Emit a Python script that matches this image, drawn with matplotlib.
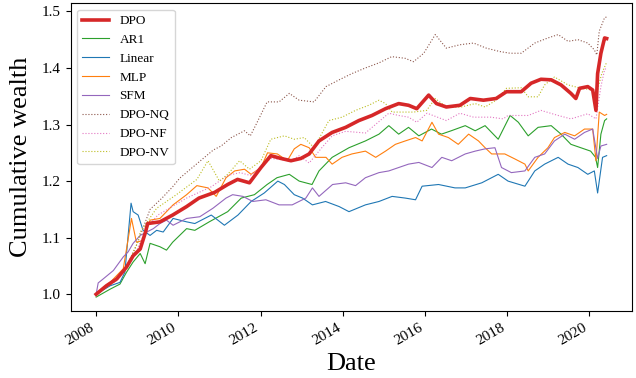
import pandas as pd
import matplotlib.pyplot as plt
import matplotlib.dates as mdates

plt.rcParams['font.family'] = ['Liberation Serif', 'DejaVu Serif']

# values (decimal year, cumulative wealth)
dpo_t = [2008.0, 2008.25, 2008.5, 2008.74, 2008.9, 2009.07, 2009.2, 2009.25, 2009.55, 2009.86,
         2010.2, 2010.5, 2010.88, 2011.2, 2011.44, 2011.73, 2012.01, 2012.25, 2012.5, 2012.74,
         2012.98, 2013.18, 2013.42, 2013.74, 2014.07, 2014.39, 2014.71, 2015.04, 2015.36, 2015.6,
         2015.8, 2016.09, 2016.28, 2016.52, 2016.85, 2017.1, 2017.42, 2017.73, 2017.98, 2018.34,
         2018.58, 2018.82, 2019.07, 2019.31, 2019.55, 2019.67, 2019.76, 2019.96, 2020.08, 2020.16,
         2020.2, 2020.28, 2020.37, 2020.42]
dpo_v = [1.000, 1.015, 1.027, 1.048, 1.068, 1.080, 1.110, 1.125, 1.128, 1.140,
         1.155, 1.170, 1.180, 1.194, 1.203, 1.197, 1.224, 1.245, 1.240, 1.236,
         1.240, 1.248, 1.271, 1.286, 1.295, 1.307, 1.316, 1.328, 1.337, 1.334,
         1.328, 1.352, 1.337, 1.331, 1.334, 1.346, 1.343, 1.346, 1.358, 1.358,
         1.373, 1.380, 1.379, 1.370, 1.355, 1.346, 1.364, 1.367, 1.361, 1.325,
         1.390, 1.426, 1.453, 1.452]

ar1_t = [2008.0, 2008.34, 2008.58, 2008.74, 2008.9, 2009.07, 2009.19, 2009.31, 2009.55, 2009.71,
         2009.86, 2010.2, 2010.4, 2010.75, 2011.2, 2011.53, 2011.85, 2012.16, 2012.4, 2012.7,
         2012.94, 2013.25, 2013.42, 2013.74, 2014.15, 2014.55, 2014.88, 2015.12, 2015.36, 2015.6,
         2015.85, 2016.16, 2016.4, 2016.64, 2016.98, 2017.22, 2017.46, 2017.78, 2018.07, 2018.27,
         2018.51, 2018.75, 2019.07, 2019.31, 2019.55, 2019.79, 2020.03, 2020.15, 2020.2, 2020.28,
         2020.37, 2020.42]
ar1_v = [0.995, 1.009, 1.018, 1.039, 1.057, 1.072, 1.054, 1.090, 1.084, 1.078,
         1.092, 1.116, 1.113, 1.128, 1.146, 1.170, 1.176, 1.194, 1.206, 1.212,
         1.200, 1.194, 1.218, 1.242, 1.259, 1.271, 1.283, 1.298, 1.283, 1.295,
         1.280, 1.292, 1.283, 1.289, 1.298, 1.289, 1.298, 1.274, 1.316, 1.304,
         1.280, 1.295, 1.298, 1.283, 1.265, 1.259, 1.253, 1.242, 1.224, 1.283,
         1.307, 1.310]

lin_t = [2008.0, 2008.34, 2008.58, 2008.7, 2008.78, 2008.85, 2008.9, 2009.02, 2009.14, 2009.31,
         2009.47, 2009.63, 2009.87, 2010.2, 2010.4, 2010.8, 2011.12, 2011.45, 2011.77, 2012.09,
         2012.42, 2012.58, 2012.82, 2013.02, 2013.26, 2013.58, 2013.91, 2014.15, 2014.55, 2014.88,
         2015.2, 2015.52, 2015.77, 2015.93, 2016.33, 2016.73, 2016.98, 2017.38, 2017.78, 2018.02,
         2018.43, 2018.67, 2018.91, 2019.24, 2019.48, 2019.72, 2019.96, 2020.12, 2020.2, 2020.32,
         2020.42]
lin_v = [1.000, 1.015, 1.021, 1.039, 1.105, 1.161, 1.146, 1.140, 1.113, 1.104,
         1.113, 1.110, 1.134, 1.128, 1.125, 1.140, 1.122, 1.140, 1.164, 1.179,
         1.200, 1.194, 1.176, 1.170, 1.158, 1.164, 1.155, 1.146, 1.158, 1.164,
         1.173, 1.170, 1.167, 1.191, 1.194, 1.188, 1.188, 1.197, 1.212, 1.200,
         1.191, 1.218, 1.230, 1.242, 1.230, 1.224, 1.212, 1.218, 1.179, 1.242,
         1.245]

mlp_t = [2008.0, 2008.34, 2008.5, 2008.66, 2008.78, 2008.86, 2008.98, 2009.14, 2009.31, 2009.55,
         2009.87, 2010.2, 2010.45, 2010.72, 2010.92, 2011.16, 2011.37, 2011.61, 2011.77, 2012.01,
         2012.17, 2012.41, 2012.65, 2012.82, 2012.98, 2013.18, 2013.34, 2013.59, 2013.74, 2013.98,
         2014.22, 2014.55, 2014.8, 2015.04, 2015.28, 2015.52, 2015.77, 2015.93, 2016.17, 2016.33,
         2016.57, 2016.81, 2017.06, 2017.3, 2017.46, 2017.62, 2017.94, 2018.19, 2018.43, 2018.51,
         2018.75, 2018.99, 2019.15, 2019.4, 2019.64, 2019.88, 2020.08, 2020.16, 2020.24, 2020.37,
         2020.42]
mlp_v = [1.000, 1.021, 1.033, 1.045, 1.098, 1.134, 1.092, 1.095, 1.131, 1.134,
         1.158, 1.176, 1.192, 1.188, 1.173, 1.206, 1.218, 1.221, 1.212, 1.224,
         1.250, 1.248, 1.236, 1.257, 1.265, 1.259, 1.242, 1.242, 1.230, 1.242,
         1.248, 1.253, 1.242, 1.253, 1.265, 1.271, 1.277, 1.271, 1.304, 1.283,
         1.277, 1.265, 1.283, 1.271, 1.259, 1.248, 1.248, 1.239, 1.230, 1.218,
         1.242, 1.259, 1.277, 1.286, 1.280, 1.292, 1.292, 1.236, 1.322, 1.316,
         1.318]

sfm_t = [2008.0, 2008.05, 2008.17, 2008.42, 2008.66, 2008.78, 2008.9, 2009.07, 2009.23, 2009.39,
         2009.55, 2009.71, 2009.87, 2010.2, 2010.52, 2010.84, 2011.16, 2011.32, 2011.57, 2011.81,
         2012.13, 2012.45, 2012.77, 2013.1, 2013.26, 2013.42, 2013.75, 2014.07, 2014.31, 2014.55,
         2014.88, 2015.12, 2015.36, 2015.6, 2015.85, 2016.17, 2016.41, 2016.65, 2016.98, 2017.22,
         2017.46, 2017.7, 2017.86, 2018.1, 2018.43, 2018.67, 2018.91, 2019.15, 2019.4, 2019.64,
         2019.88, 2020.08, 2020.2, 2020.28, 2020.42]
sfm_v = [1.000, 1.020, 1.027, 1.042, 1.066, 1.075, 1.090, 1.104, 1.110, 1.116,
         1.125, 1.131, 1.122, 1.134, 1.137, 1.152, 1.170, 1.176, 1.173, 1.164,
         1.167, 1.158, 1.158, 1.170, 1.188, 1.173, 1.194, 1.197, 1.192, 1.206,
         1.215, 1.218, 1.224, 1.230, 1.233, 1.224, 1.242, 1.236, 1.248, 1.253,
         1.257, 1.259, 1.224, 1.215, 1.218, 1.242, 1.248, 1.271, 1.283, 1.274,
         1.286, 1.292, 1.240, 1.262, 1.265]

nq_t = [2008.0, 2008.5, 2008.75, 2009.0, 2009.31, 2009.6, 2009.86, 2010.03, 2010.52, 2010.85,
        2011.04, 2011.29, 2011.61, 2011.75, 2011.89, 2012.16, 2012.45, 2012.7, 2012.94, 2013.3,
        2013.59, 2013.91, 2014.22, 2014.55, 2014.88, 2015.19, 2015.52, 2015.72, 2015.97, 2016.25,
        2016.52, 2016.85, 2017.18, 2017.49, 2017.82, 2018.07, 2018.34, 2018.67, 2018.99, 2019.24,
        2019.48, 2019.72, 2019.96, 2020.12, 2020.18, 2020.24, 2020.37, 2020.42]
nq_v = [1.000, 1.025, 1.050, 1.090, 1.150, 1.170, 1.190, 1.205, 1.235, 1.255,
        1.262, 1.277, 1.289, 1.280, 1.300, 1.340, 1.340, 1.355, 1.343, 1.340,
        1.367, 1.379, 1.390, 1.400, 1.409, 1.420, 1.417, 1.411, 1.426, 1.459,
        1.435, 1.441, 1.444, 1.435, 1.429, 1.426, 1.426, 1.444, 1.453, 1.459,
        1.447, 1.450, 1.444, 1.432, 1.423, 1.465, 1.489, 1.490]

nf_t = [2008.0, 2008.5, 2008.75, 2009.0, 2009.25, 2009.5, 2009.85, 2010.2, 2010.5, 2010.8,
        2011.2, 2011.5, 2011.75, 2012.0, 2012.25, 2012.5, 2012.75, 2012.94, 2013.18, 2013.5,
        2013.74, 2014.07, 2014.55, 2015.12, 2015.36, 2015.6, 2015.8, 2016.05, 2016.52, 2016.85,
        2017.18, 2017.6, 2017.9, 2018.02, 2018.51, 2018.82, 2019.24, 2019.55, 2019.96, 2020.16,
        2020.28, 2020.37, 2020.42]
nf_v = [1.000, 1.025, 1.050, 1.080, 1.120, 1.140, 1.155, 1.170, 1.180, 1.190,
        1.210, 1.215, 1.210, 1.225, 1.240, 1.238, 1.236, 1.245, 1.232, 1.260,
        1.280, 1.288, 1.285, 1.320, 1.316, 1.313, 1.304, 1.320, 1.307, 1.320,
        1.313, 1.313, 1.310, 1.316, 1.316, 1.325, 1.316, 1.310, 1.319, 1.310,
        1.367, 1.397, 1.400]

nv_t = [2008.0, 2008.5, 2008.75, 2009.0, 2009.07, 2009.47, 2009.95, 2010.45, 2010.72, 2011.0,
        2011.2, 2011.49, 2011.73, 2012.01, 2012.25, 2012.58, 2012.82, 2013.06, 2013.3, 2013.66,
        2013.98, 2014.31, 2014.63, 2014.88, 2015.04, 2015.2, 2015.72, 2016.04, 2016.25, 2016.52,
        2016.88, 2017.22, 2017.46, 2017.73, 2017.98, 2018.34, 2018.51, 2018.75, 2018.91, 2019.15,
        2019.48, 2019.8, 2020.08, 2020.16, 2020.3, 2020.42]
nv_v = [1.000, 1.025, 1.050, 1.090, 1.110, 1.152, 1.176, 1.203, 1.236, 1.200,
        1.212, 1.236, 1.221, 1.236, 1.274, 1.280, 1.274, 1.277, 1.259, 1.307,
        1.313, 1.325, 1.334, 1.343, 1.337, 1.322, 1.322, 1.325, 1.346, 1.331,
        1.331, 1.337, 1.331, 1.343, 1.364, 1.365, 1.349, 1.349, 1.370, 1.384,
        1.370, 1.364, 1.361, 1.350, 1.390, 1.410]


def to_dates(years):
    return [pd.Timestamp(int(y), 1, 1) + pd.Timedelta(days=(y - int(y)) * 365.25) for y in years]


fig = plt.figure(figsize=(6.36, 3.78), dpi=100)
ax = fig.add_axes([0.111, 0.177, 0.883, 0.815])

ax.plot(to_dates(dpo_t), dpo_v, color='tab:red', lw=2.6, label='DPO', zorder=3)
ax.plot(to_dates(ar1_t), ar1_v, color='tab:green', lw=0.8, label='AR1')
ax.plot(to_dates(lin_t), lin_v, color='tab:blue', lw=0.8, label='Linear')
ax.plot(to_dates(mlp_t), mlp_v, color='tab:orange', lw=0.8, label='MLP')
ax.plot(to_dates(sfm_t), sfm_v, color='tab:purple', lw=0.8, label='SFM')
ax.plot(to_dates(nq_t), nq_v, color='tab:brown', lw=0.8, ls=':', label='DPO-NQ')
ax.plot(to_dates(nf_t), nf_v, color='tab:pink', lw=0.8, ls=':', label='DPO-NF')
ax.plot(to_dates(nv_t), nv_v, color='tab:olive', lw=0.8, ls=':', label='DPO-NV')

ax.xaxis.set_major_locator(mdates.YearLocator(2))
ax.xaxis.set_major_formatter(mdates.DateFormatter('%Y'))
for lab in ax.get_xticklabels():
    lab.set_rotation(30)
    lab.set_ha('right')
ax.tick_params(labelsize=11)
ax.set_yticks([1.0, 1.1, 1.2, 1.3, 1.4, 1.5])

ax.set_xlabel('Date', fontsize=19)
ax.set_ylabel('Cumulative wealth', fontsize=19, labelpad=7)
ax.legend(loc='upper left', fontsize=9.5)

plt.savefig('out.png', dpi=100)
